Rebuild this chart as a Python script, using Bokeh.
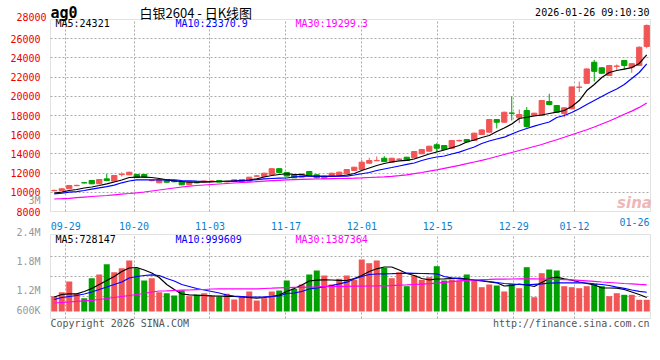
from bokeh.plotting import figure
from bokeh.models import (Range1d, LinearAxis, FixedTicker, Label, Grid, ColumnDataSource,
                          BoxAnnotation, AllLabels)
from bokeh.embed import file_html
from bokeh.resources import INLINE

# ---------------- data ----------------
date_ticks = [2, 11, 21, 31, 41, 51, 61, 69, 79]
date_labels = ["09-29", "10-20", "11-03", "11-17", "12-01", "12-15", "12-29", "01-12", "01-26"]
price_ticks = [8000, 10000, 12000, 14000, 16000, 18000, 20000, 22000, 24000, 26000, 28000]
vol_tick_labels = ["3M", "2.4M", "1.8M", "1.2M", "600K"]

opens = [10170, 10190, 10370, 10690, 11000, 11230, 10885, 11400, 11160, 11840,
         11820, 11855, 11855, 11210, 10990, 11330, 11230, 11125, 10800, 11010,
         11140, 11150, 11230, 11090, 11125, 11100, 11160, 11680, 11645, 11855,
         12460, 12070, 11820, 11580, 12170, 11820, 11440, 11750, 11750, 11930,
         12270, 12375, 13030, 13290, 13550, 13135, 13430, 13655, 13590, 14010,
         14285, 14950, 14875, 14590, 15360, 15500, 15400, 16020, 16260, 17580,
         17300, 18260, 17760, 18520, 18000, 18000, 19455, 19040, 18200, 18700,
         20930, 21350, 23550, 22970, 22170, 23120, 23730, 23030, 23210, 25190]
closes = [10200, 10365, 10710, 10720, 10980, 10885, 11330, 11230, 11750, 11870,
          12090, 11570, 11600, 11240, 11300, 11050, 11100, 10780, 11060, 10990,
          11170, 11170, 11060, 11110, 11300, 11330, 11575, 11710, 11990, 12460,
          12070, 11690, 11510, 11900, 11750, 11510, 11680, 11990, 12100, 12375,
          12615, 13135, 13310, 13320, 13200, 13550, 13460, 13310, 14250, 14460,
          14800, 14590, 14460, 15400, 15390, 15250, 16160, 16500, 17580, 17300,
          18340, 18230, 18100, 16850, 18240, 19560, 19145, 18340, 18800, 20980,
          20960, 22850, 22600, 22400, 23210, 23150, 23210, 23400, 25110, 27380]
highs = [10280, 10400, 10750, 10800, 11060, 11260, 11360, 11930, 11780, 12090,
         12150, 11900, 11880, 11300, 11330, 11360, 11260, 11160, 11100, 11060,
         11230, 11230, 11260, 11170, 11330, 11360, 11600, 11800, 12030, 12500,
         12500, 12100, 11850, 11930, 12200, 11880, 11720, 12030, 12140, 12400,
         12650, 13380, 13590, 13730, 13760, 13580, 13550, 13690, 14280, 14500,
         14840, 15115, 14900, 15440, 15500, 15550, 16200, 16550, 17620, 17620,
         18400, 19980, 18625, 18870, 18280, 19600, 20260, 19100, 18850, 21000,
         21540, 22900, 23800, 23020, 23260, 23310, 23780, 23440, 25200, 27480]
lows = [10100, 10150, 10330, 10640, 10930, 10850, 10850, 11150, 11120, 11645,
        11780, 11540, 11560, 11150, 10950, 11000, 11050, 10750, 10760, 10950,
        11100, 11100, 11030, 11050, 11100, 11080, 11130, 11620, 11600, 11820,
        12040, 11650, 11480, 11550, 11720, 11450, 11400, 11720, 11720, 11900,
        12240, 12340, 13000, 13250, 13170, 13100, 13380, 13280, 13560, 13980,
        14250, 14180, 14430, 14560, 15300, 15200, 15350, 15980, 16230, 16650,
        17260, 17480, 17200, 16720, 17960, 17960, 19040, 18300, 17800, 18650,
        20430, 21300, 21540, 22350, 22130, 22760, 22800, 22450, 23150, 25000]

ma5 = [9930, 10010, 10190, 10290, 10450, 10550, 10710, 10885, 11070, 11280,
       11540, 11575, 11575, 11540, 11440, 11300, 11200, 11125, 11070, 11050,
       11050, 11090, 11125, 11160, 11180, 11230, 11280, 11400, 11590, 11750,
       11855, 11930, 11855, 11855, 11700, 11645, 11645, 11645, 11700, 11800,
       11960, 12270, 12530, 12790, 13000, 13160, 13280, 13330, 13470, 13730,
       13990, 14200, 14410, 14640, 14875, 15240, 15450, 15710, 15920, 16330,
       16700, 17110, 17690, 17820, 17950, 18050, 18210, 18360, 18520, 18940,
       19560, 20600, 21230, 21960, 22480, 22690, 22840, 22990, 23420, 24321]
ma10 = [9840, 9900, 10010, 10080, 10190, 10340, 10470, 10600, 10740, 10990,
        11180, 11300, 11300, 11300, 11300, 11300, 11300, 11230, 11200, 11160,
        11125, 11125, 11125, 11125, 11160, 11200, 11230, 11330, 11400, 11440,
        11470, 11490, 11600, 11645, 11680, 11680, 11680, 11680, 11680, 11680,
        11800, 11930, 12060, 12270, 12430, 12580, 12740, 12900, 13050, 13310,
        13520, 13680, 13780, 13990, 14180, 14460, 14720, 15080, 15340, 15550,
        15740, 16070, 16390, 16650, 16900, 17110, 17320, 17790, 18000, 18310,
        18700, 19150, 19560, 19980, 20400, 20760, 21230, 21850, 22480, 23371]
ma30 = [9302, 9333, 9375, 9438, 9500, 9563, 9615, 9667, 9740, 9813,
        9875, 9948, 10031, 10135, 10240, 10344, 10448, 10552, 10635, 10708,
        10760, 10813, 10865, 10917, 10969, 11021, 11052, 11104, 11156, 11208,
        11250, 11292, 11323, 11344, 11365, 11385, 11406, 11427, 11438, 11448,
        11469, 11500, 11542, 11573, 11615, 11667, 11729, 11823, 11938, 12063,
        12198, 12344, 12500, 12656, 12813, 12979, 13156, 13333, 13521, 13729,
        13938, 14146, 14354, 14563, 14771, 14979, 15240, 15479, 15729, 15990,
        16250, 16521, 16802, 17115, 17427, 17760, 18125, 18458, 18844, 19299]

# volume in thousands
volume = [796, 1004, 1560, 920, 692, 1732, 1924, 2460, 2044, 2252,
          2652, 2252, 1612, 1732, 1004, 952, 832, 1092, 796, 868,
          952, 832, 796, 920, 624, 796, 1040, 572, 692, 1040,
          1092, 1612, 1180, 1404, 1924, 2132, 1872, 1404, 1700, 1872,
          1648, 2704, 2512, 2652, 2272, 1732, 2044, 1316, 1872, 1648,
          1784, 2356, 1612, 1664, 1612, 1924, 1612, 1264, 1404, 1352,
          1040, 1440, 1212, 2304, 744, 1992, 2184, 2132, 1316, 1264,
          1212, 1316, 1440, 1316, 796, 952, 868, 868, 608, 608]
vma5 = [754, 884, 920, 920, 1040, 1196, 1404, 1612, 1820, 2080,
        2262, 2288, 2158, 2002, 1768, 1404, 1144, 910, 868, 848,
        832, 816, 806, 790, 780, 754, 728, 692, 728, 780,
        858, 1040, 1196, 1378, 1586, 1628, 1648, 1638, 1622, 1612,
        1716, 1872, 2080, 2220, 2314, 2314, 2158, 1976, 1872, 1716,
        1648, 1690, 1700, 1716, 1732, 1690, 1628, 1586, 1534, 1492,
        1326, 1352, 1430, 1378, 1300, 1508, 1716, 1784, 1700, 1628,
        1534, 1456, 1378, 1232, 1222, 1212, 1144, 1014, 884, 728]
vma10 = [624, 728, 780, 832, 910, 1014, 1144, 1274, 1404, 1534,
         1742, 1820, 1872, 1908, 1872, 1716, 1586, 1404, 1300, 1196,
         1118, 1040, 962, 858, 806, 780, 754, 754, 764, 780,
         806, 936, 962, 1040, 1170, 1232, 1284, 1352, 1440, 1524,
         1690, 1820, 1924, 1950, 1960, 1966, 1976, 1992, 1986, 1976,
         1966, 1960, 1820, 1752, 1700, 1664, 1638, 1612, 1560, 1508,
         1456, 1430, 1404, 1388, 1414, 1440, 1477, 1492, 1492, 1492,
         1492, 1482, 1440, 1404, 1352, 1264, 1206, 1118, 1050, 1000]
vma30 = [442, 468, 494, 530, 556, 582, 624, 676, 728, 780,
         832, 884, 936, 1014, 1066, 1076, 1092, 1108, 1118, 1134,
         1144, 1170, 1180, 1180, 1180, 1180, 1180, 1180, 1196, 1212,
         1232, 1243, 1253, 1258, 1269, 1279, 1290, 1300, 1305, 1310,
         1316, 1321, 1326, 1331, 1336, 1347, 1368, 1383, 1404, 1425,
         1446, 1477, 1513, 1555, 1596, 1617, 1638, 1659, 1669, 1680,
         1685, 1690, 1695, 1700, 1695, 1690, 1680, 1669, 1659, 1643,
         1622, 1596, 1565, 1534, 1508, 1482, 1456, 1440, 1410, 1387]

# ---------------- styles ----------------
RED = "#f25555"
GREEN = "#00a000"
GRID = "#aaaaaa"
BORDER = "#a0a0a0"
PRICE_LBL = "#ee0000"
DATE_LBL = "#0a7fcf"
VOL_LBL = "#999999"
MONO = "DejaVu Sans Mono"
CJK = "Noto Sans CJK SC"
W, H = 660, 360

n = len(closes)
idx = list(range(n))
colors = [RED if c >= o else GREEN for o, c in zip(opens, closes)]
src = ColumnDataSource(dict(
    x=idx, h=highs, l=lows,
    top=[max(o, c) for o, c in zip(opens, closes)],
    bot=[min(o, c) for o, c in zip(opens, closes)],
    vol=volume, color=colors,
    ma5=ma5, ma10=ma10, ma30=ma30, vma5=vma5, vma10=vma10, vma30=vma30))

# pixel -> data helpers (layout of the two panels on the 660x360 canvas)
def px_x(xp):        # candle slots: slot i centred at 53.75 + 7.5 i
    return -0.5 + (xp - 50) / 7.5

def px_slot(xp):     # date grid: index 0 at x=50, index 79 at x=650
    return (xp - 50) * 79 / 600

def px_price(yp):    # 28000 at y=19, 8000 at y=211
    return 8000 + (211 - yp) * 20000 / 192

def px_vol(yp):      # volume (thousands): 0 at y=311
    return (311 - yp) * 52

p = figure(width=W, height=H, x_range=Range1d(px_x(0), px_x(W)),
           y_range=Range1d(px_price(H), px_price(0)),
           output_backend="svg", toolbar_location=None, title=None,
           x_axis_location=None, y_axis_location=None,
           min_border=0, min_border_left=0, min_border_right=0,
           min_border_top=0, min_border_bottom=0)
p.extra_x_ranges = {"slots": Range1d(px_slot(0), px_slot(W))}
p.extra_y_ranges = {"vol": Range1d(px_vol(H), px_vol(0))}
p.outline_line_color = None
p.background_fill_color = "white"
p.border_fill_color = "white"
p.xgrid.visible = False
p.ygrid.visible = False

X0, X1 = -0.5, 79.5
VB, VT = px_vol(318), px_vol(234)

# ---- grids ----
p.add_layout(Grid(dimension=1, ticker=FixedTicker(ticks=price_ticks[1:-1]),
                  cross_bounds=(X0, X1), grid_line_color=GRID, grid_line_dash="2 2"))
p.add_layout(Grid(dimension=0, x_range_name="slots", ticker=FixedTicker(ticks=date_ticks[:-1]),
                  cross_bounds=(8000, 28000), grid_line_color=GRID, grid_line_dash="2 2"))
p.add_layout(Grid(dimension=0, x_range_name="slots", y_range_name="vol",
                  ticker=FixedTicker(ticks=date_ticks[:-1]),
                  cross_bounds=(VB, VT), grid_line_color=GRID, grid_line_dash="2 2"))
p.add_layout(Grid(dimension=1, y_range_name="vol", ticker=FixedTicker(ticks=[800, 1840, 2880]),
                  cross_bounds=(X0, X1), grid_line_color=GRID, grid_line_dash="2 2"))

# ---- axes (fixed at the panel edges) ----
def style_axis(ax, color):
    ax.axis_line_color = None
    ax.major_tick_line_color = None
    ax.minor_tick_line_color = None
    ax.major_label_standoff = 4
    ax.major_label_text_color = color
    ax.major_label_text_font = MONO
    ax.major_label_text_font_size = "10px"
    ax.major_label_policy = AllLabels()

# the top value of the price scale sits on the panel's top border and is written separately
ya = LinearAxis(fixed_location=X0, ticker=FixedTicker(ticks=price_ticks[:-1]),
                major_label_overrides={t: str(t) for t in price_ticks[:-1]})
style_axis(ya, PRICE_LBL)
p.add_layout(ya, "left")

vol_label_px = [200.3, 231.7, 260.7, 290, 310]
vol_ticks = [int(round(px_vol(y))) for y in vol_label_px]
va = LinearAxis(fixed_location=X0, y_range_name="vol", ticker=FixedTicker(ticks=vol_ticks),
                major_label_overrides={t: l for t, l in zip(vol_ticks, vol_tick_labels)})
style_axis(va, VOL_LBL)
p.add_layout(va, "left")

xa = LinearAxis(fixed_location=8000, x_range_name="slots", ticker=FixedTicker(ticks=date_ticks[:-1]),
                major_label_overrides={t: l for t, l in zip(date_ticks[:-1], date_labels[:-1])})
style_axis(xa, DATE_LBL)
p.add_layout(xa, "below")

# ---- panel borders ----
p.add_layout(BoxAnnotation(left=X0, right=X1, bottom=8000, top=28000, fill_color=None,
                           line_color=BORDER, line_width=1))
p.add_layout(BoxAnnotation(left=X0, right=X1, bottom=VB, top=VT, y_range_name="vol",
                           fill_color=None, line_color=BORDER, line_width=1))

# ---- price panel ----
p.segment(x0="x", y0="l", x1="x", y1="h", color="color", line_width=1, source=src)
p.vbar(x="x", width=0.7, top="top", bottom="bot", fill_color="color", line_color="color",
       line_width=1, source=src)
p.line("x", "ma5", color="black", line_width=1.2, source=src)
p.line("x", "ma10", color="#0000ff", line_width=1.2, source=src)
p.line("x", "ma30", color="#ff00ff", line_width=1.2, source=src)

# ---- volume panel ----
p.vbar(x="x", width=0.8, top="vol", bottom=0, fill_color="color", line_color=None,
       y_range_name="vol", source=src)
p.line("x", "vma5", color="black", line_width=1.2, y_range_name="vol", source=src)
p.line("x", "vma10", color="#0000ff", line_width=1.2, y_range_name="vol", source=src)
p.line("x", "vma30", color="#ff00ff", line_width=1.2, y_range_name="vol", source=src)

# ---- texts ----
def label(x, y, text, color, size="10px", font=MONO, align="left", style="normal",
          alpha=1.0, yname="default"):
    p.add_layout(Label(x=x, y=y, y_range_name=yname, text=text, text_color=color,
                       text_font=font, text_font_size=size, text_align=align,
                       text_baseline="middle", text_font_style=style, text_alpha=alpha))

label(px_x(46), px_price(16.5), str(price_ticks[-1]), PRICE_LBL, align="right")
label(px_x(50), px_price(12), "ag0", "black", size="15px", style="bold")
label(px_x(139), px_price(11.5), "白银2604 - 日K线图", "black", size="13px", font=CJK)
label(px_x(649), px_price(11.5), "2026-01-26 09:10:30", "black", align="right")
label(px_x(55), px_price(23.3), "MA5:24321", "black")
label(px_x(175), px_price(23.3), "MA10:23370.9", "#0000ff")
label(px_x(295), px_price(23.3), "MA30:19299.3", "#ff00ff")
label(px_x(649), px_price(221.7), date_labels[-1], DATE_LBL, align="right")
label(px_x(634), px_price(202), "sina", "#eaa0a0", size="15px", font="DejaVu Sans",
      align="center", style="bold italic", alpha=0.75)

label(px_x(55), px_vol(238.5), "MA5:728147", "black", yname="vol")
label(px_x(175), px_vol(238.5), "MA10:999609", "#0000ff", yname="vol")
label(px_x(295), px_vol(238.5), "MA30:1387364", "#ff00ff", yname="vol")
label(px_x(50), px_vol(323), "Copyright 2026 SINA.COM", "#555555", yname="vol")
label(px_x(649), px_vol(323), "http://finance.sina.com.cn", "#555555", align="right", yname="vol")

open("out.html", "w").write(file_html(p, INLINE))
